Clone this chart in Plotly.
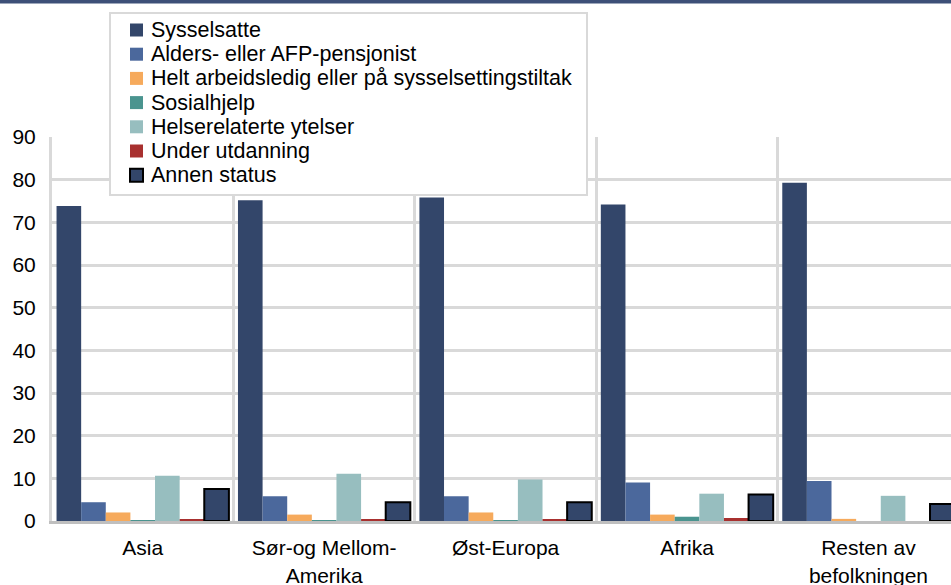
import plotly.graph_objects as go

# Kategorier og verdier (prosent)
regioner = ["Asia", "Sør-og Mellom-<br>Amerika", "Øst-Europa", "Afrika", "Resten av<br>befolkningen"]

sysselsatte = [73.8, 75.2, 75.8, 74.2, 79.3]
alders_afp = [4.4, 5.8, 5.8, 9.0, 9.4]
arbeidsledig = [2.0, 1.5, 2.0, 1.5, 0.5]
sosialhjelp = [0.1, 0.1, 0.1, 1.0, 0.0]
helserelaterte = [10.6, 11.1, 9.7, 6.4, 5.9]
utdanning = [0.3, 0.3, 0.4, 0.7, 0.0]
annen_status = [7.5, 4.4, 4.4, 6.2, 4.0]

serier = [
    ("Sysselsatte", sysselsatte, "#33466a", None),
    ("Alders- eller AFP-pensjonist", alders_afp, "#4b689c", None),
    ("Helt arbeidsledig eller på sysselsettingstiltak", arbeidsledig, "#f6aa5c", None),
    ("Sosialhjelp", sosialhjelp, "#4a948f", None),
    ("Helserelaterte ytelser", helserelaterte, "#97bebf", None),
    ("Under utdanning", utdanning, "#a8302f", None),
    ("Annen status", annen_status, "#33466a", "#000000"),
]

# plottområdet i piksler (for plassering av tegnforklaringen)
W, H = 951, 585
ML, MR, MT, MB = 52, 0, 137, 64
PW, PH = W - ML - MR, H - MT - MB

def px(x):
    return (x - ML) / PW

def py(y):
    return (H - MB - y) / PH

fig = go.Figure()
for navn, verdier, farge, kant in serier:
    fig.add_trace(go.Bar(
        x=regioner, y=verdier, name=navn, showlegend=False,
        marker=dict(color=farge,
                    line=dict(color=kant if kant else farge, width=2 if kant else 0)),
    ))

# tegnforklaring: ramme, fargeruter og tekst
shapes = [
    dict(type="rect", xref="paper", yref="paper",
         x0=-0.1, x1=1.01, y0=py(3.5), y1=py(-10),
         fillcolor="#3d5078", line=dict(width=0), layer="above"),
    dict(type="rect", xref="paper", yref="paper",
         x0=px(110), x1=px(587), y0=py(195), y1=py(13),
         fillcolor="white", line=dict(color="#d9d9d9", width=2), layer="above"),
]
annotations = []
for i, (navn, verdier, farge, kant) in enumerate(serier):
    yc = 30 + i * 24.2
    shapes.append(dict(
        type="rect", xref="paper", yref="paper",
        x0=px(130), x1=px(143), y0=py(yc + 6.5), y1=py(yc - 6.5),
        fillcolor=farge, line=dict(color=kant if kant else farge, width=2 if kant else 0),
        layer="above"))
    annotations.append(dict(
        text=navn, xref="paper", yref="paper", x=px(149), y=py(yc),
        xanchor="left", yanchor="middle", showarrow=False,
        font=dict(size=21.5, color="#000000")))

fig.update_layout(
    width=W, height=H,
    margin=dict(l=ML, r=MR, t=MT, b=MB),
    barmode="group", bargap=0.05, bargroupgap=0,
    plot_bgcolor="white", paper_bgcolor="white",
    font=dict(family="Liberation Sans, Arial", size=21, color="#000000"),
    showlegend=False,
    xaxis=dict(
        type="category", range=[-0.5, 4.455], automargin=False,
        tickson="boundaries", showgrid=True, gridcolor="#d9d9d9", gridwidth=3,
        showline=True, linecolor="#bfbfbf", linewidth=3,
        ticks="", ticklabelstandoff=6,
        tickfont=dict(size=21),
    ),
    yaxis=dict(
        range=[0, 90], dtick=10, automargin=False,
        showgrid=True, gridcolor="#d9d9d9", gridwidth=3,
        showline=True, linecolor="#d9d9d9", linewidth=3,
        ticks="outside", ticklen=9, tickcolor="rgba(0,0,0,0)",
        tickfont=dict(size=21), zeroline=False,
    ),
    shapes=shapes,
    annotations=annotations,
)

# siden har 8 px marg rundt figuren som standard; fjern den
fig.write_html("out.html", config={"displayModeBar": False},
               post_script="document.body.style.margin='0';")
